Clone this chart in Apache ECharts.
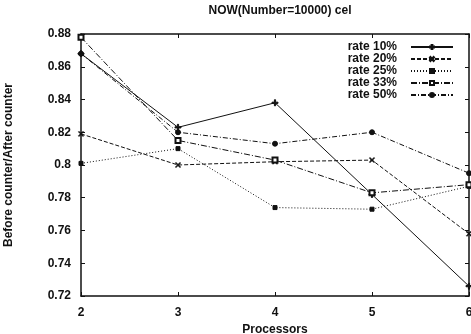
<!DOCTYPE html>
<html>
<head>
<meta charset="utf-8">
<script src="https://cdn.jsdelivr.net/npm/echarts@6/dist/echarts.min.js"></script>
<style>
  html, body { margin: 0; padding: 0; background: #fff; }
  #chart { width: 471px; height: 334px; }
</style>
</head>
<body>
<div id="chart"></div>
<script>
const processors = [2, 3, 4, 5, 6];
const rate10 = [0.868, 0.823, 0.838, 0.782, 0.726];
const rate20 = [0.819, 0.800, 0.802, 0.803, 0.758];
const rate25 = [0.801, 0.810, 0.774, 0.773, 0.787];
const rate33 = [0.878, 0.815, 0.803, 0.783, 0.788];
const rate50 = [0.868, 0.820, 0.813, 0.820, 0.795];
const seriesNames = ["rate 10%", "rate 20%", "rate 25%", "rate 33%", "rate 50%"];

const font = "Liberation Sans";
const ink = "#111";

const plusPath = "path://M4,0h2v4h4v2h-4v4h-2v-4h-4v-2h4z";
const crossPath = "path://M1,0L5,4L9,0L10,1L6,5L10,9L9,10L5,6L1,10L0,9L4,5L0,1z";

function pairs(values) {
  return processors.map((p, i) => [p, values[i]]);
}

function makeSeries(name, values, dash, symbol, size) {
  return {
    name,
    type: "line",
    data: pairs(values),
    symbol,
    symbolSize: size,
    showAllSymbol: true,
    lineStyle: { color: ink, width: 1, type: dash },
    itemStyle: { color: ink, borderColor: ink, borderWidth: 1 },
    emphasis: { disabled: true }
  };
}

const chart = echarts.init(document.getElementById("chart"), null, { renderer: "canvas" });

chart.setOption({
  animation: false,
  backgroundColor: "#fff",
  textStyle: { fontFamily: font, color: ink },
  title: {
    text: "NOW(Number=10000) cel",
    left: 275,
    textAlign: "center",
    top: 0,
    textStyle: { fontFamily: font, fontSize: 12, fontWeight: "bold", color: ink }
  },
  grid: { left: 81, right: 2, top: 34, bottom: 38, outerBoundsMode: "none" },
  legend: {
    right: 12,
    top: 36,
    orient: "vertical",
    align: "right",
    itemGap: 0,
    itemWidth: 42,
    itemHeight: 5,
    data: seriesNames,
    textStyle: { fontFamily: font, fontSize: 12, fontWeight: "bold", color: ink, padding: [0, 9, 0, 0] }
  },
  xAxis: [
    {
      type: "value",
      min: 2,
      max: 6,
      interval: 1,
      name: "Processors",
      nameLocation: "middle",
      nameGap: 27,
      nameTextStyle: { fontFamily: font, fontSize: 12, fontWeight: "bold", color: ink },
      axisLine: { lineStyle: { color: ink, width: 1.5 } },
      axisTick: { inside: true, length: 4, lineStyle: { color: ink } },
      axisLabel: { fontFamily: font, fontSize: 12, fontWeight: "bold", color: ink, margin: 11 },
      splitLine: { show: false }
    },
    {
      type: "value",
      position: "top",
      min: 2,
      max: 6,
      interval: 1,
      axisLine: { lineStyle: { color: ink, width: 1.5 } },
      axisTick: { inside: true, length: 4, lineStyle: { color: ink } },
      axisLabel: { show: false },
      splitLine: { show: false }
    }
  ],
  yAxis: [
    {
      type: "value",
      min: 0.72,
      max: 0.88,
      interval: 0.02,
      name: "Before counter/After counter",
      nameLocation: "middle",
      nameGap: 66,
      nameTextStyle: { fontFamily: font, fontSize: 12, fontWeight: "bold", color: ink },
      axisLine: { lineStyle: { color: ink, width: 1.5 } },
      axisTick: { inside: true, length: 4, lineStyle: { color: ink } },
      axisLabel: { fontFamily: font, fontSize: 12, fontWeight: "bold", color: ink, margin: 10 },
      splitLine: { show: false }
    },
    {
      type: "value",
      position: "right",
      min: 0.72,
      max: 0.88,
      interval: 0.02,
      axisLine: { show: true, lineStyle: { color: ink, width: 1.5 } },
      axisTick: { show: true, inside: true, length: 4, lineStyle: { color: ink } },
      axisLabel: { show: false },
      splitLine: { show: false }
    }
  ],
  series: [
    makeSeries(seriesNames[0], rate10, "solid", plusPath, 6),
    makeSeries(seriesNames[1], rate20, [4, 2], crossPath, 5),
    makeSeries(seriesNames[2], rate25, [1, 2], "rect", 4),
    makeSeries(seriesNames[3], rate33, [6, 2, 1, 2], "emptyRect", 5),
    makeSeries(seriesNames[4], rate50, [5, 2, 1, 2], "circle", 5)
  ]
});
</script>
</body>
</html>
